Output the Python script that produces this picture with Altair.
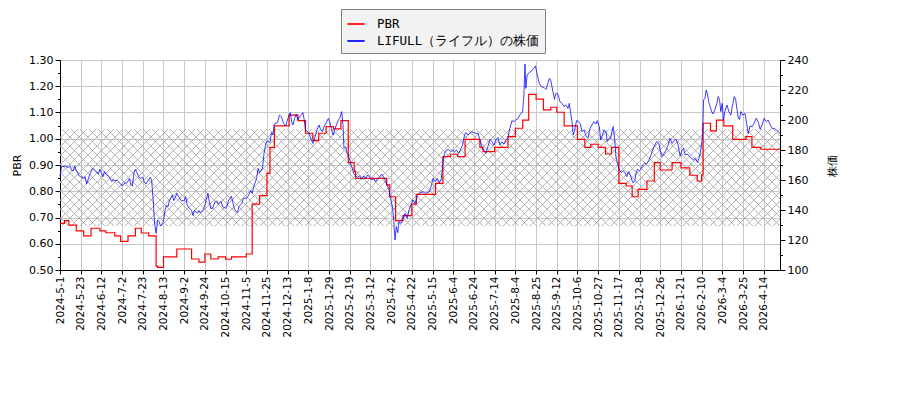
import json
import numpy as np
import pandas as pd
import altair as alt

# --- plot geometry (plot area only) ---
W, H = 720, 210
X_MAX = 487  # last trading-day index shown

# --- tick labels: one every 14 trading days ---
tick_labels = [
    "2024-5-1", "2024-5-23", "2024-6-12", "2024-7-2", "2024-7-23", "2024-8-13",
    "2024-9-2", "2024-9-24", "2024-10-15", "2024-11-5", "2024-11-25", "2024-12-13",
    "2025-1-8", "2025-1-29", "2025-2-19", "2025-3-12", "2025-4-2", "2025-4-22",
    "2025-5-15", "2025-6-4", "2025-6-24", "2025-7-14", "2025-8-4", "2025-8-25",
    "2025-9-12", "2025-10-6", "2025-10-27", "2025-11-17", "2025-12-8", "2025-12-26",
    "2026-1-21", "2026-2-10", "2026-3-4", "2026-3-25", "2026-4-14",
]
TICK_STEP = 14

# --- PBR (step series): trading-day index where each level starts ---
pbr_day = [0, 3, 6, 11, 16, 21, 27, 31, 37, 41, 46, 51, 55, 60, 65, 66, 70, 79, 89, 94,
           98, 102, 107, 112, 116, 126, 130, 135, 140, 142, 145, 155, 161, 166, 171, 175,
           180, 185, 190, 195, 199, 200, 221, 223, 227, 232, 238, 241, 254, 259, 264, 269,
           274, 284, 286, 294, 303, 308, 313, 317, 322, 327, 332, 336, 341, 350, 355, 359,
           364, 369, 373, 378, 383, 387, 391, 397, 402, 406, 414, 420, 426, 431, 434, 435,
           440, 444, 449, 455, 464, 468, 474, 487]
pbr_val = [0.678, 0.688, 0.671, 0.649, 0.630, 0.659, 0.649, 0.642, 0.630, 0.609, 0.630,
           0.659, 0.641, 0.630, 0.515, 0.510, 0.550, 0.580, 0.542, 0.530, 0.561, 0.542,
           0.550, 0.541, 0.550, 0.561, 0.751, 0.783, 0.868, 0.967, 1.049, 1.090, 1.069,
           1.021, 0.993, 1.021, 1.046, 1.038, 1.069, 0.909, 0.875, 0.849, 0.824, 0.779,
           0.688, 0.707, 0.751, 0.788, 0.830, 0.932, 0.941, 0.932, 0.998, 0.967, 0.951,
           0.967, 1.008, 1.040, 1.071, 1.169, 1.151, 1.110, 1.120, 1.101, 1.049, 0.998,
           0.967, 0.979, 0.967, 0.942, 0.967, 0.830, 0.820, 0.779, 0.807, 0.839, 0.909,
           0.881, 0.909, 0.889, 0.861, 0.839, 0.862, 1.059, 1.030, 1.071, 1.049, 0.998,
           1.008, 0.967, 0.960, 0.960]

# --- share price (daily) ---
price_day = [
    0, 1, 2, 4, 5, 7, 8, 9, 10, 11, 13, 14, 16, 17, 18, 20, 22, 23, 24, 26, 27, 28, 29, 30,
    31, 33, 35, 36, 37, 39, 41, 42, 44, 45, 47, 48, 49, 50, 51, 53, 54, 56, 57, 58, 60, 61,
    62, 63, 64, 65, 66, 67, 68, 70, 71, 72, 73, 74, 76, 77, 78, 79, 80, 82, 84, 85, 86, 87,
    89, 90, 91, 93, 94, 95, 97, 98, 100, 101, 102, 103, 105, 106, 107, 109, 110, 112, 113,
    114, 116, 117, 118, 120, 121, 123, 124, 126, 127, 129, 130, 131, 133, 134, 135, 137,
    138, 139, 140, 142, 143, 144, 145, 147,
    148.5, 149.7, 151.2, 152.6, 153.5, 154.9, 155.8, 156.7, 157.6, 158.7, 159.8, 160.9,
    162, 163.2, 164.3, 165.2, 166.1, 167.5, 168.8, 169.9, 171.1, 172.4, 173.8, 175.2, 176,
    177.4, 178.8, 180.1, 181.5, 182.4, 183.5, 184.7, 185.8, 186.9, 188.3, 189.2, 190.5,
    191.4, 192.1, 193.2, 194.1, 195.5, 196.6, 197.7, 198.6, 200, 201.3, 202.7, 204, 205.4,
    206.8, 208.1, 209.5, 210.8, 212.2, 213.5, 214.9, 216.3, 217.6, 219, 220.3, 221.2,
    222.6, 223.5, 224.9, 225.7, 226.6, 227.5, 228.4, 229.3, 230.7, 232, 233.4, 234.8,
    236.1, 237.5, 238.8, 240.2, 241.6, 242.9, 244.2, 245.6, 247, 248.3, 249.7, 251, 252.4,
    253.7, 255.1, 256.5, 257.8, 259.2, 260.1, 261.4, 262.8, 264.2, 265.5, 266.9, 268.2,
    269.6, 271, 272.3, 273.6, 274.5, 275.9, 277.3, 278.6, 280, 281.3, 282.7, 284, 285.3,
    286.7, 288.1, 289.4, 290.8, 292.1, 293.5, 294.8, 296.2, 297.6, 298.9, 300.2, 301.6,
    303, 304.3, 305.7, 307, 308.4, 309.8,
    311, 312.9, 313.8, 314.5, 315.1, 316, 317.4, 319.2, 320.4, 321.6, 322.8, 324.2, 325.5,
    327.3, 328.7, 330, 330.9, 331.8, 333.2, 334.5, 335.4, 336.8, 338.1, 339.5, 340.9,
    342.2, 343.6, 344.5, 345.4, 346.3, 347.2, 348.1, 349.4, 350.8, 352.1, 353, 354.4,
    355.8, 357.1, 358.5, 359.8, 361.2, 362.5, 363.4, 364.8, 365.7, 367, 367.9, 369.3,
    370.2, 371.1, 372.4, 373.3, 374.2, 375.2, 376, 377.4, 378.3, 379.7, 381, 382.4, 383.3,
    384.6, 386, 387.4, 388.7, 389.6, 390.5, 391.9, 392.8, 394.1, 395.5, 396.8, 398.2,
    399.5, 400.9, 402.3, 403.6, 405, 405.9, 407.2, 408.6, 410, 411.3, 412.6, 414, 415.3,
    416.7, 418.1, 419.4, 420.8, 421.7, 423, 424.4, 425.8, 427.1, 428.5, 429.8, 431.2,
    432.6, 433.4, 434.3, 434.8, 435.3, 436.2, 437.1, 438, 438.9, 439.8, 440.7, 441.6,
    442.9, 444.3, 445.2, 446.1, 447, 447.9, 448.8, 449.7, 451.1, 452.4, 453.8, 454.7,
    456.1, 457, 457.9, 458.8, 459.7, 460.5, 461.9, 463.3, 464.6, 465.5, 466.8, 468.2,
    469.5, 470.9, 472.2, 473.6, 475, 476.3, 477.7, 479, 480.4, 481.7, 483.1, 484.5, 485.8,
    487,
]
price_val = [
    162.7, 168.9, 169.0, 169.3, 168.4, 169.0, 166.2, 166.2, 169.3, 166.2, 162.7, 162.2,
    161.1, 162.2, 157.3, 163.3, 167.8, 167.1, 166.2, 164.0, 167.1, 164.9, 162.2, 165.6,
    164.0, 162.2, 158.9, 160.4, 159.6, 159.6, 157.3, 156.0, 158.2, 157.8, 160.9, 156.7,
    156.0, 164.9, 167.1, 162.7, 161.1, 161.8, 158.9, 157.3, 160.0, 161.8, 160.0, 146.7,
    131.1, 124.4, 133.3, 132.2, 129.3, 132.2, 139.6, 143.3, 142.2, 146.2, 150.0, 146.2,
    148.4, 151.1, 149.3, 146.2, 146.2, 148.9, 143.3, 141.8, 139.6, 136.4, 139.6, 137.8,
    139.6, 138.2, 140.4, 143.3, 151.1, 145.6, 141.1, 140.9, 145.6, 146.0, 144.0, 145.6,
    142.2, 141.1, 142.7, 146.2, 149.3, 144.4, 140.4, 138.2, 142.2, 144.4, 147.8, 147.8,
    148.9, 152.9, 151.1, 155.6, 161.1, 167.8, 164.9, 167.8, 177.8, 183.3, 186.2, 184.9,
    191.6, 190.0, 197.3, 198.2,
    203.3, 202.2, 197.8, 196.0, 198.9, 203.3, 204.9, 198.9, 196.7, 201.1, 204.0, 200.0,
    202.2, 203.3, 204.9, 200.0, 193.3, 192.2, 190.0, 186.7, 184.4, 188.4, 193.3, 196.7,
    194.4, 192.2, 196.0, 198.2, 201.1, 198.9, 194.4, 190.0, 193.3, 196.7, 200.0, 201.1,
    205.6, 196.7, 181.1, 182.2, 178.2, 175.1, 171.1, 167.8, 164.4, 162.7, 161.8, 162.7,
    160.4, 162.7, 161.1, 163.3, 161.8, 160.0, 161.1, 158.9, 161.1, 162.2, 164.0, 161.8,
    158.9, 156.7, 153.3, 147.8, 142.2, 133.3, 120.0, 128.9, 124.9, 132.2, 131.1, 134.4,
    137.8, 134.4, 140.0, 144.0, 146.7, 144.4, 148.9, 151.1, 151.6, 152.2, 151.1, 151.6,
    152.2, 155.6, 161.1, 158.9, 161.1, 158.2, 160.0, 173.3, 177.8, 180.0, 180.4, 178.9,
    180.0, 178.9, 180.0, 177.8, 180.4, 183.3, 190.0, 191.6, 190.0, 191.1, 192.2, 191.6,
    191.1, 191.1, 187.1, 182.2, 180.0, 177.8, 182.2, 187.1, 185.6, 183.3, 186.7, 188.4,
    183.3, 185.6, 184.0, 186.7, 188.4, 194.4, 199.6, 198.9, 200.0, 201.1,
    203.3, 205.6, 216.7, 237.3, 221.1, 230.0, 231.6, 232.9, 234.4, 236.0, 230.0, 224.4,
    222.2, 221.8, 220.4, 224.4, 227.8, 227.1, 220.0, 213.8, 217.8, 217.3, 212.2, 211.1,
    208.9, 210.0, 207.8, 211.1, 204.4, 198.9, 190.0, 193.3, 199.6, 198.9, 197.3, 192.2,
    193.3, 189.3, 187.8, 194.4, 196.7, 198.9, 197.3, 199.6, 195.6, 186.7, 190.0, 193.3,
    192.2, 185.6, 187.1, 187.8, 192.2, 195.6, 186.7, 175.6, 170.0, 166.7, 164.9, 166.2,
    164.4, 162.2, 165.6, 162.7, 158.2, 158.9, 164.4, 167.1, 166.2, 167.1, 170.0, 171.1,
    170.7, 172.9, 176.0, 180.0, 183.3, 185.6, 184.4, 180.0, 175.6, 177.8, 180.0, 183.3,
    187.8, 184.4, 186.2, 187.1, 183.3, 176.0, 180.0, 181.1, 176.7, 177.3, 175.6, 174.4,
    173.3, 174.4, 171.6, 175.6, 180.0, 186.7, 195.6, 213.3, 214.4, 220.0, 216.7, 211.6,
    208.9, 205.6, 204.0, 206.7, 211.1, 215.6, 213.3, 205.6, 211.1, 200.0, 205.6, 210.0,
    205.6, 203.3, 208.9, 215.6, 213.8, 207.1, 201.1, 200.4, 205.6, 203.3, 204.4, 196.7,
    191.1, 196.0, 195.6, 197.8, 201.1, 198.9, 193.8, 197.3, 201.1, 198.9, 200.0, 196.7,
    194.4, 194.4, 193.3, 192.2, 191.1,
]

# --- hatched PBR band ---
band_lo, band_hi = 0.667, 1.037

SERIES = ["PBR", "LIFULL（ライフル）の株価"]
COLORS = ["#ff0000", "#0000ff"]

pbr_df = pd.DataFrame({"day": pbr_day, "value": pbr_val, "series": SERIES[0]})
price_df = pd.DataFrame({"day": price_day, "value": price_val, "series": SERIES[1]})

# cross-hatch lines (45 degrees on screen) clipped to the band
px_per_day = W / X_MAX
px_per_pbr = H / (1.30 - 0.50)
hatch_px = 9
span = (band_hi - band_lo) * px_per_pbr / px_per_day
step = hatch_px / px_per_day
rows = []
for sign in (1, -1):
    for x0 in np.arange(-span, X_MAX + step, step):
        t0 = max(0.0, (0 - x0) / span)
        t1 = min(1.0, (X_MAX - x0) / span)
        if t0 >= t1:
            continue
        ya, yb = (band_lo, band_hi) if sign == 1 else (band_hi, band_lo)
        rows.append((x0 + t0 * span, x0 + t1 * span,
                     ya + (yb - ya) * t0, ya + (yb - ya) * t1))
hatch_df = pd.DataFrame(rows, columns=["x", "x2", "y", "y2"])

# --- axes ---
x_scale = alt.Scale(domain=[0, X_MAX], nice=False, zero=False)
x_axis = alt.Axis(
    values=list(range(0, TICK_STEP * len(tick_labels), TICK_STEP)),
    labelExpr=f"{json.dumps(tick_labels)}[round(datum.value / {TICK_STEP})]",
    labelAngle=270, labelFontSize=10.5, title=None, grid=True,
    gridColor="#c8c8c8", tickSize=4,
)

left_scale = alt.Scale(domain=[0.5, 1.3], nice=False, zero=False)
minor_left = "round(datum.value * 100) % 10 != 0"
left_axis = alt.Axis(
    title="PBR", values=[round(0.5 + 0.05 * i, 2) for i in range(17)],
    labelExpr=f"{minor_left} ? '' : format(datum.value, '.2f')",
    tickSize={"condition": {"test": minor_left, "value": 2.5}, "value": 5},
    gridOpacity={"condition": {"test": minor_left, "value": 0}, "value": 1},
    gridColor="#c8c8c8", titlePadding=6,
)

right_scale = alt.Scale(domain=[100, 240], nice=False, zero=False)
minor_right = "datum.value % 20 != 0"
right_axis = alt.Axis(
    title="株価", orient="right", titleAngle=270, grid=False,
    values=list(range(100, 241, 10)),
    labelExpr=f"{minor_right} ? '' : datum.label",
    tickSize={"condition": {"test": minor_right, "value": 2.5}, "value": 5},
    titlePadding=30,
)

color = alt.Color(
    "series:N",
    scale=alt.Scale(domain=SERIES, range=COLORS),
    legend=alt.Legend(
        title=None, orient="none", legendX=281, legendY=-51,
        fillColor="#f2f2f2", strokeColor="#808080", padding=5,
        symbolType="stroke", symbolSize=300, symbolStrokeWidth=2,
        labelFont="DejaVu Sans Mono", labelFontSize=12.5, rowPadding=0,
        labelOffset=11, cornerRadius=0, labelLimit=300,
    ),
)

hatch = alt.Chart(hatch_df).mark_rule(color="#a8a8a8", strokeWidth=0.9).encode(
    x=alt.X("x:Q", scale=x_scale, axis=x_axis),
    x2="x2:Q",
    y=alt.Y("y:Q", scale=left_scale, axis=left_axis),
    y2="y2:Q",
)

pbr_line = alt.Chart(pbr_df).mark_line(interpolate="step-after", strokeWidth=1.2).encode(
    x=alt.X("day:Q", scale=x_scale, axis=x_axis),
    y=alt.Y("value:Q", scale=left_scale, axis=left_axis),
    color=color,
)

price_line = alt.Chart(price_df).mark_line(strokeWidth=0.9, opacity=0.85).encode(
    x=alt.X("day:Q", scale=x_scale, axis=x_axis),
    y=alt.Y("value:Q", scale=right_scale, axis=right_axis),
    color=color,
)

left = alt.layer(hatch, pbr_line)
chart = alt.layer(left, price_line).resolve_scale(y="independent").properties(
    width=W, height=H,
    autosize=alt.AutoSizeParams(type="none"),
    padding={"left": 52, "top": 52, "right": 112, "bottom": 122},
).configure_view(stroke=None).configure_axis(
    labelFont="DejaVu Sans", titleFont="DejaVu Sans", labelFontSize=11,
    titleFontSize=11, titleFontWeight="normal", labelColor="black",
    titleColor="black", tickColor="black", domainColor="black",
)

chart.save("out.html", embed_options={"renderer": "svg", "actions": False})
